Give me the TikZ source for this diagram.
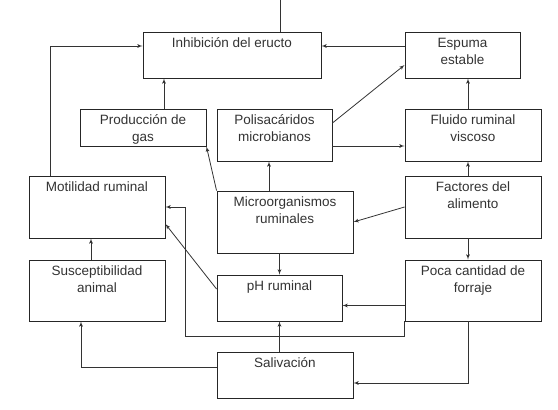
\documentclass[tikz,border=0pt]{standalone}
\usepackage{fontspec}
\setmainfont{Liberation Sans}
\usetikzlibrary{arrows}
\tikzset{
	caja/.style = {draw=black!85, line width=0.9pt, rectangle, inner sep=0pt},
	rotulo/.style = {anchor=north, align=center, inner sep=0pt, yshift=-6pt, text=black!80, font=\fontsize{13.5}{17}\selectfont},
	linea/.style = {line width=0.8pt, draw=black!80},
	flecha/.style = {linea, ->}
}

\begin{document}
\begin{tikzpicture}[x=1pt, y=-1pt, >=latex']
    \useasboundingbox (0,0) rectangle (558,410);
    % Cajas, puestas en coordenadas de la figura
    \node [caja, minimum width=178, minimum height=46, label={[rotulo]north:Inhibición del eructo}] (inhibicion) at (232,55) {};
    \node [caja, minimum width=115, minimum height=46, label={[rotulo]north:Espuma\\estable}] (espuma) at (462.5,55) {};
    \node [caja, minimum width=126, minimum height=37, label={[rotulo]north:Producción de\\gas}] (produccion) at (143,127.5) {};
    \node [caja, minimum width=115, minimum height=52, label={[rotulo]north:Polisacáridos\\microbianos}] (polisacaridos) at (274.5,135) {};
    \node [caja, minimum width=136, minimum height=52, label={[rotulo]north:Fluido ruminal\\viscoso}] (fluido) at (473,135) {};
    \node [caja, minimum width=136, minimum height=62, label={[rotulo]north:Motilidad ruminal}] (motilidad) at (97,207) {};
    \node [caja, minimum width=136, minimum height=62, label={[rotulo]north:Microorganismos\\ruminales}] (micro) at (285,222) {};
    \node [caja, minimum width=136, minimum height=62, label={[rotulo]north:Factores del\\alimento}] (factores) at (473,207) {};
    \node [caja, minimum width=136, minimum height=61, label={[rotulo]north:Susceptibilidad\\animal}] (susceptibilidad) at (97,290.5) {};
    \node [caja, minimum width=125, minimum height=46, label={[rotulo]north:pH ruminal}] (ph) at (279.5,298) {};
    \node [caja, minimum width=136, minimum height=61, label={[rotulo]north:Poca cantidad de\\forraje}] (forraje) at (473,290.5) {};
    \node [caja, minimum width=136, minimum height=46, label={[rotulo]north:Salivación}] (salivacion) at (285,375) {};
    \coordinate (borde) at (280,0);

    % Conexiones entre cajas
    \draw [linea] (borde) -- (borde |- inhibicion.north);
    \draw [flecha] ([yshift=9]espuma.west) -- ([yshift=9]inhibicion.east);
    \draw [flecha] ([xshift=21]produccion.north) -- ([xshift=21]produccion.north |- inhibicion.south);
    \draw [flecha] ([xshift=-47]motilidad.north) |- ([yshift=9]inhibicion.west);
    \draw [flecha] ([yshift=12]polisacaridos.east) -- ([yshift=-10]espuma.west);
    \draw [flecha] ([xshift=-5]fluido.north) -- ([xshift=-5]fluido.north |- espuma.south);
    \draw [flecha] ([yshift=-11]polisacaridos.east) -- ([yshift=-11]polisacaridos.east -| fluido.west);
    \draw [flecha] ([xshift=-16]micro.north) -- ([xshift=-16]micro.north |- polisacaridos.south);
    \draw [flecha] (micro.north west) -- (produccion.south east);
    \draw [flecha] ([xshift=-5]factores.north) -- ([xshift=-5]factores.north |- fluido.south);
    \draw [flecha] (factores.west) -- (micro.east);
    \draw [flecha] ([xshift=-5]factores.south) -- ([xshift=-5]factores.south |- forraje.north);
    \draw [flecha] (ph.north |- micro.south) -- (ph.north);
    \draw [flecha] ([xshift=-6]susceptibilidad.north) -- ([xshift=-6]susceptibilidad.north |- motilidad.south);
    \draw [flecha] (forraje.south west) -- ++(0,15) -| ([xshift=20]motilidad.east) -- (motilidad.east);
    \draw [flecha] ([yshift=9]ph.west) -- ([yshift=-17]motilidad.east);
    \draw [flecha] ([yshift=-15]forraje.west) -- ([yshift=-15]forraje.west -| ph.east);
    \draw [flecha] (ph.south |- salivacion.north) -- (ph.south);
    \draw [flecha] ([yshift=8]salivacion.west) -| ([xshift=-16]susceptibilidad.south);
    \draw [flecha] ([xshift=-5]forraje.south) |- ([yshift=-8]salivacion.east);
\end{tikzpicture}
\end{document}
